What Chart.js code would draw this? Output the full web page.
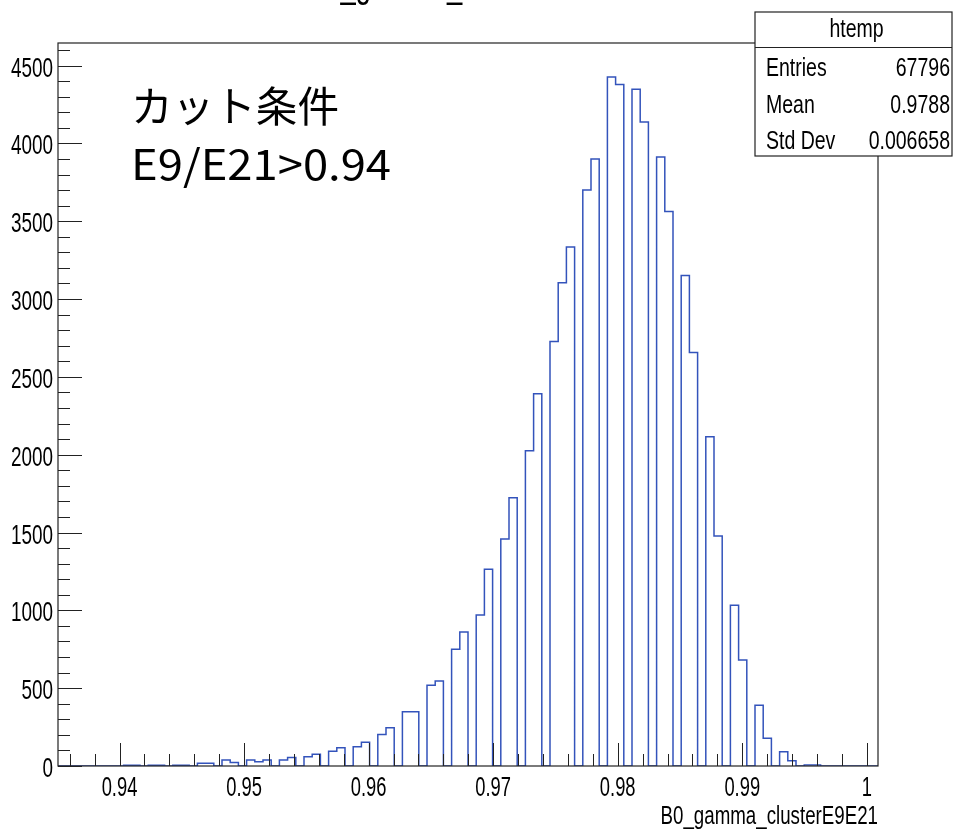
<!DOCTYPE html>
<html>
<head>
<meta charset="utf-8">
<title>B0_gamma_clusterE9E21</title>
<script src="https://cdn.jsdelivr.net/npm/chart.js@4"></script>
<style>
  html, body { margin: 0; padding: 0; background: #fff; }
  canvas { display: block; }
</style>
</head>
<body>
<canvas id="histChart" width="956" height="830"></canvas>
<script>
// htemp: B0_gamma_clusterE9E21, 100 bins
const xMin = 0.93506;
const xMax = 1.0009;
const binCounts = [
  0, 0, 0, 0, 0, 0, 0, 0, 5, 5,
  0, 5, 5, 0, 5, 5, 0, 18, 18, 0,
  38, 22, 0, 38, 28, 38, 0, 38, 54, 0,
  60, 75, 0, 94, 118, 0, 124, 152, 0, 203,
  246, 0, 349, 349, 0, 518, 546, 0, 750, 861,
  0, 970, 1264, 0, 1459, 1724, 0, 2026, 2392, 0,
  2727, 3104, 3335, 0, 3701, 3899, 0, 4426, 4378, 0,
  4348, 4138, 0, 3913, 3562, 0, 3151, 2656, 0, 2116,
  1478, 0, 1033, 681, 0, 390, 178, 0, 92, 34,
  0, 6, 6, 0, 0, 0, 0, 0, 0, 0
];
const yMax = 4645;

const xTickValues = [0.94, 0.95, 0.96, 0.97, 0.98, 0.99, 1.0];
const xTickLabels = ['0.94', '0.95', '0.96', '0.97', '0.98', '0.99', '1'];
const yTickValues = [0, 500, 1000, 1500, 2000, 2500, 3000, 3500, 4000, 4500];
const yTickLabels = ['0', '500', '1000', '1500', '2000', '2500', '3000', '3500', '4000', '4500'];

const statsTitle = 'htemp';
const statsNames = ['Entries', 'Mean', 'Std Dev'];
const statsValues = ['67796', '0.9788', '0.006658'];

const histTitle = 'B0_gamma_clusterE9E21';
const xAxisTitle = 'B0_gamma_clusterE9E21';
const noteLines = ['カット条件', 'E9/E21>0.94'];

const binWidth = (xMax - xMin) / binCounts.length;
const outline = binCounts.map((c, i) => ({ x: xMin + i * binWidth, y: c }));
outline.push({ x: xMax, y: 0 });

const ROOT_FONT = '"Liberation Sans", Arial, sans-serif';

function squeezed(ctx, text, x, y, size, sx, align) {
  ctx.save();
  ctx.font = size + 'px ' + ROOT_FONT;
  ctx.textAlign = align;
  ctx.textBaseline = 'alphabetic';
  ctx.translate(x, y);
  ctx.scale(sx, 1);
  ctx.fillText(text, 0, 0);
  ctx.restore();
}

// frame, inward ticks, labels, stats box and notes drawn ROOT style
const rootFrame = {
  id: 'rootFrame',
  afterDatasetsDraw(chart) {
    const ctx = chart.ctx;
    const a = chart.chartArea;
    const xs = chart.scales.x;
    const ys = chart.scales.y;

    ctx.save();
    ctx.strokeStyle = '#222';
    ctx.lineWidth = 1.2;
    ctx.strokeRect(a.left, a.top, a.right - a.left, a.bottom - a.top);

    // y ticks every 100, long every 500
    ctx.lineWidth = 1;
    ctx.beginPath();
    for (let v = 0; v <= yMax; v += 100) {
      const py = Math.round(ys.getPixelForValue(v)) + 0.5;
      const len = v % 500 === 0 ? 24 : 12;
      ctx.moveTo(a.left, py);
      ctx.lineTo(a.left + len, py);
    }
    // x ticks every 0.002, long every 0.01
    for (let i = 468; i <= 500; i++) {
      const px = Math.round(xs.getPixelForValue(i * 0.002)) + 0.5;
      const len = i % 5 === 0 ? 23 : 12;
      ctx.moveTo(px, a.bottom);
      ctx.lineTo(px, a.bottom - len);
    }
    ctx.stroke();

    ctx.fillStyle = '#000';
    yTickValues.forEach((v, i) => {
      squeezed(ctx, yTickLabels[i], a.left - 5, ys.getPixelForValue(v) + 11, 27, 0.7, 'right');
    });
    xTickValues.forEach((v, i) => {
      squeezed(ctx, xTickLabels[i], xs.getPixelForValue(v), a.bottom + 30, 27, 0.68, 'center');
    });
    squeezed(ctx, xAxisTitle, a.right, 824, 26, 0.72, 'right');
    squeezed(ctx, histTitle, 466, -3, 38, 0.72, 'center');

    // stats box
    const bx = 755, by = 12, bw = 197, bh = 144;
    ctx.fillStyle = '#fff';
    ctx.fillRect(bx, by, bw, bh);
    ctx.strokeStyle = '#222';
    ctx.lineWidth = 1.2;
    ctx.strokeRect(bx, by, bw, bh);
    ctx.beginPath();
    ctx.moveTo(bx, 47.5);
    ctx.lineTo(bx + bw, 47.5);
    ctx.stroke();
    ctx.fillStyle = '#000';
    squeezed(ctx, statsTitle, bx + bw / 2 + 3, 37, 25, 0.78, 'center');
    const rowY = [76, 113, 149];
    statsNames.forEach((n, i) => {
      squeezed(ctx, n, 766, rowY[i], 25, 0.78, 'left');
      squeezed(ctx, statsValues[i], 950, rowY[i], 25, 0.78, 'right');
    });

    // cut condition note
    const noteFont = '"Noto Sans CJK JP", sans-serif';
    const noteWidths = [208, 260];
    const noteBase = [122, 180];
    noteLines.forEach((t, i) => {
      ctx.save();
      ctx.font = '42px ' + noteFont;
      ctx.textAlign = 'left';
      ctx.textBaseline = 'alphabetic';
      const w = ctx.measureText(t).width;
      ctx.translate(131, noteBase[i]);
      ctx.scale(noteWidths[i] / w, 1);
      ctx.fillText(t, 0, 0);
      ctx.restore();
    });
    ctx.restore();
  }
};

new Chart(document.getElementById('histChart'), {
  type: 'line',
  data: {
    datasets: [{
      data: outline,
      stepped: 'before',
      borderColor: '#3353bb',
      borderWidth: 1.5,
      pointRadius: 0,
      fill: false,
      tension: 0
    }]
  },
  options: {
    responsive: false,
    animation: false,
    devicePixelRatio: 1,
    layout: {
      padding: { left: 58, top: 43, right: 78, bottom: 64 }
    },
    scales: {
      x: { type: 'linear', min: xMin, max: xMax, display: false },
      y: { type: 'linear', min: 0, max: yMax, display: false }
    },
    plugins: {
      legend: { display: false },
      tooltip: { enabled: false },
      title: { display: false }
    }
  },
  plugins: [rootFrame]
});
</script>
</body>
</html>
